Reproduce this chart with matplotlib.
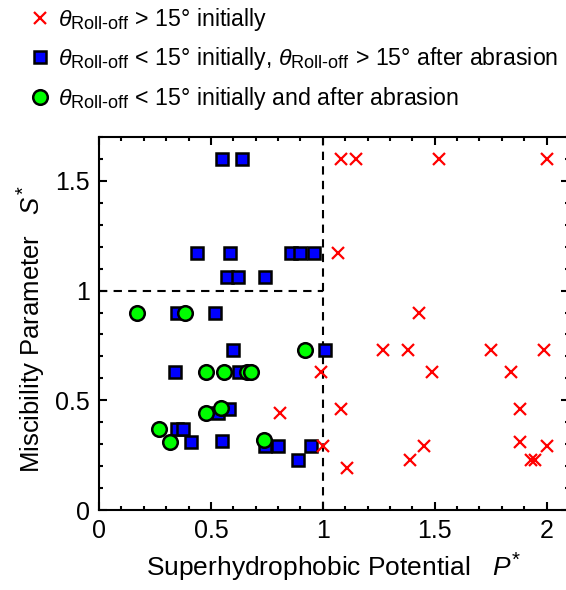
import matplotlib
matplotlib.use("Agg")
import matplotlib.pyplot as plt
import matplotlib._mathtext as mathtext_internals
from matplotlib.ticker import MultipleLocator

plt.rcParams['font.family'] = ['Liberation Sans', 'DejaVu Sans']
plt.rcParams['mathtext.fontset'] = 'custom'
plt.rcParams['mathtext.rm'] = 'Liberation Sans'
plt.rcParams['mathtext.it'] = 'Liberation Sans:italic'
plt.rcParams['mathtext.bf'] = 'Liberation Sans:bold'
# subscripts in the original are only a little smaller than the text
mathtext_internals.SHRINK_FACTOR = 0.78

# theta_roll-off > 15 deg initially
red_x = [1.08, 1.15, 1.52, 2.00, 1.07, 1.43, 1.27, 1.38, 1.75, 1.99, 0.99, 1.49,
         1.84, 1.08, 1.88, 1.00, 1.45, 1.88, 2.00, 1.39, 1.93, 1.95, 1.11, 0.81]
red_y = [1.60, 1.60, 1.60, 1.60, 1.17, 0.90, 0.73, 0.73, 0.73, 0.73, 0.63, 0.63,
         0.63, 0.46, 0.46, 0.29, 0.29, 0.31, 0.29, 0.23, 0.23, 0.23, 0.19, 0.44]

# < 15 initially, > 15 after abrasion
blue_x = [0.55, 0.64, 0.44, 0.585, 0.86, 0.90, 0.96, 0.57, 0.62, 0.74, 0.35, 0.52,
          0.60, 1.01, 0.34, 0.625, 0.53, 0.58, 0.35, 0.375, 0.41, 0.55, 0.74, 0.80,
          0.89, 0.945]
blue_y = [1.60, 1.60, 1.17, 1.17, 1.17, 1.17, 1.17, 1.06, 1.06, 1.06, 0.90, 0.90,
          0.73, 0.73, 0.63, 0.63, 0.44, 0.46, 0.37, 0.37, 0.31, 0.315, 0.29, 0.29,
          0.23, 0.29]

# < 15 initially and after abrasion
green_x = [0.17, 0.385, 0.92, 0.48, 0.56, 0.66, 0.68, 0.48, 0.545, 0.27, 0.315, 0.735]
green_y = [0.90, 0.90, 0.73, 0.63, 0.63, 0.63, 0.63, 0.44, 0.465, 0.37, 0.31, 0.32]

theta = r'$\theta_{\mathrm{Roll\text{-}off}}$'
labels = [theta + ' > 15° initially',
          theta + ' < 15° initially, ' + theta + ' > 15° after abrasion',
          theta + ' < 15° initially and after abrasion']

fig = plt.figure(figsize=(5.66, 5.90), dpi=100)
ax = fig.add_axes([99/566, 80/590, 470/566, 373/590])

ax.plot([0, 1], [1, 1], color='black', ls=(0, (4, 3)), lw=1.5, zorder=1)
ax.plot([1, 1], [0, 1.7], color='black', ls=(0, (4, 3)), lw=1.5, zorder=1)

hb, = ax.plot(blue_x, blue_y, 's', ms=9, mfc='#0000ff', mec='black', mew=1.8,
              ls='none', zorder=3)
hg, = ax.plot(green_x, green_y, 'o', ms=10.5, mfc='#00ff00', mec='black', mew=1.8,
              ls='none', zorder=4)
hr, = ax.plot(red_x, red_y, 'x', ms=8.5, color='red', mew=1.6, ls='none', zorder=5)

ax.set_xlim(0, 2.1)
ax.set_ylim(0, 1.7)
ax.xaxis.set_minor_locator(MultipleLocator(0.1))
ax.yaxis.set_minor_locator(MultipleLocator(0.1))
ax.set_xticks([0, 0.5, 1, 1.5, 2])
ax.set_xticklabels(['0', '0.5', '1', '1.5', '2'])
ax.set_yticks([0, 0.5, 1, 1.5])
ax.set_yticklabels(['0', '0.5', '1', '1.5'])
ax.tick_params(which='both', direction='in', top=True, right=True, width=1.5,
               labelsize=18)
ax.tick_params(which='major', length=6, pad=6.5)
ax.tick_params(which='minor', length=3)
for s in ax.spines.values():
    s.set_linewidth(1.5)

ax.set_xlabel(r'Superhydrophobic Potential   $P^{*}$', fontsize=19, labelpad=5)
ax.set_ylabel(r'Miscibility Parameter   $S^{*}$', fontsize=18.5)
ax.yaxis.set_label_coords(-0.11, 0.485)

fig.legend([hr, hb, hg], labels, loc='upper left', bbox_to_anchor=(0.033, 1.006),
           frameon=False, fontsize=16.7, handlelength=1.0, handletextpad=0.3,
           labelspacing=0.55, borderaxespad=0)

fig.savefig('out.png', dpi=100)
